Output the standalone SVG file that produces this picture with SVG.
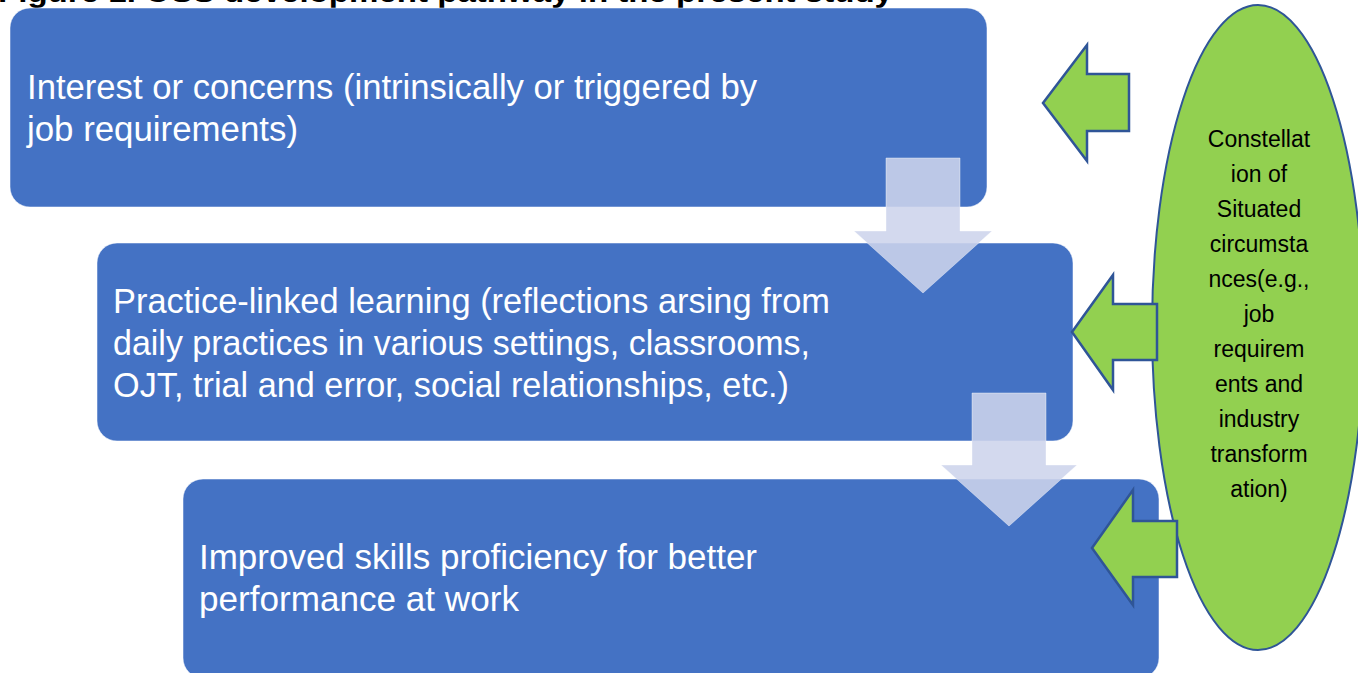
<svg xmlns="http://www.w3.org/2000/svg" width="1358" height="673" viewBox="0 0 1358 673">
<style>
.box{fill:#4472C4;stroke:#ffffff;stroke-opacity:0.5;stroke-width:1}
.down{fill:rgb(205,212,236);fill-opacity:0.88;stroke:#ffffff;stroke-opacity:0.4;stroke-width:1}
.green{fill:#92D050;stroke:#2F5597;stroke-width:2.5;stroke-linejoin:miter}
.t{font-family:"Liberation Sans",Arial,sans-serif;font-size:35px;fill:#ffffff}
.e{font-family:"Liberation Sans",Arial,sans-serif;font-size:23px;fill:#000000;text-anchor:middle}
.title{font-family:"Liberation Sans",Arial,sans-serif;font-size:30px;font-weight:bold;fill:#000000}
</style>
<rect width="1358" height="673" fill="#ffffff"/>
<text class="title" x="-2" y="2" textLength="895" lengthAdjust="spacingAndGlyphs">Figure 1. OSS development pathway in the present study</text>
<g id="node-interest">
<rect class="box" x="10" y="8" width="977" height="199" rx="20"/>
<text class="t" x="27" y="99" textLength="730" lengthAdjust="spacingAndGlyphs">Interest or concerns (intrinsically or triggered by</text>
<text class="t" x="27" y="141" textLength="271" lengthAdjust="spacingAndGlyphs">job requirements)</text>
</g>
<g id="node-practice">
<rect class="box" x="97" y="243" width="976" height="198" rx="20"/>
<text class="t" x="113" y="313" textLength="717" lengthAdjust="spacingAndGlyphs">Practice-linked learning (reflections arsing from</text>
<text class="t" x="113" y="355" textLength="697" lengthAdjust="spacingAndGlyphs">daily practices in various settings, classrooms,</text>
<text class="t" x="113" y="397" textLength="676" lengthAdjust="spacingAndGlyphs">OJT, trial and error, social relationships, etc.)</text>
</g>
<g id="node-improved">
<rect class="box" x="183" y="479" width="976" height="199" rx="20"/>
<text class="t" x="199" y="569" textLength="558" lengthAdjust="spacingAndGlyphs">Improved skills proficiency for better</text>
<text class="t" x="199" y="611" textLength="320" lengthAdjust="spacingAndGlyphs">performance at work</text>
</g>
<g id="connectors">
<path class="down" d="M886,158 H960 V231 H992 L923,293 L854,231 H886 Z"/>
<path class="down" d="M972,393 H1046 V465 H1077 L1009,526 L941,465 H972 Z"/>
</g>
<g id="node-constellation">
<ellipse cx="1258" cy="327.5" rx="106" ry="322.5" fill="#92D050" stroke="#2F5597" stroke-width="2"/>
<text class="e" x="1259" y="147">Constellat</text>
<text class="e" x="1259" y="182">ion of</text>
<text class="e" x="1259" y="217">Situated</text>
<text class="e" x="1259" y="252">circumsta</text>
<text class="e" x="1259" y="287">nces(e.g.,</text>
<text class="e" x="1259" y="322">job</text>
<text class="e" x="1259" y="357">requirem</text>
<text class="e" x="1259" y="392">ents and</text>
<text class="e" x="1259" y="427">industry</text>
<text class="e" x="1259" y="462">transform</text>
<text class="e" x="1259" y="497">ation)</text>
</g>
<g id="influence-arrows">
<path class="green" d="M1043,103 L1087,45 V74 H1129 V131 H1087 V161 Z"/>
<path class="green" d="M1072,332 L1113,275 V304 H1157 V360 H1113 V390 Z"/>
<path class="green" d="M1092,548 L1133,490 V521 H1177 V577 H1133 V605 Z"/>
</g>
</svg>
